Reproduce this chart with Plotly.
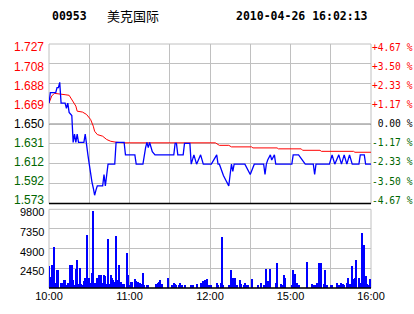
import plotly.graph_objects as go

# ---------------- data ----------------
stock_code = "00953"
stock_name = "美克国际"
timestamp = "2010-04-26 16:02:13"
prev_close = 1.65

# minute index: 0 = 10:00 ... 150 = 12:30/14:30 ... 240 = 16:00
price_min = [0, 1, 5, 6, 7, 8, 9, 12, 13, 14, 15, 16, 17, 18, 19, 20, 21, 22, 26, 27,
             28, 29, 30, 31, 32, 33, 34, 35, 36, 40, 41, 42, 43, 44, 49, 50, 56, 57, 64, 65,
             70, 71, 72, 73, 74, 75, 76, 77, 79, 93, 94, 95, 96, 100, 101, 105, 106, 108, 110, 113,
             115, 121, 125, 126, 127, 130, 132, 134, 135, 136, 137, 138, 146, 150, 153, 160, 161, 162, 163, 165,
             166, 168, 169, 181, 182, 186, 191, 197, 198, 199, 209, 211, 213, 216, 218, 220, 222, 224, 226, 231,
             232, 235, 236, 240]
price = [1.670, 1.680, 1.680, 1.685, 1.685, 1.690, 1.670, 1.670, 1.665, 1.670, 1.661, 1.659, 1.658, 1.632, 1.640, 1.632, 1.640, 1.632, 1.632, 1.640,
         1.632, 1.620, 1.611, 1.600, 1.594, 1.588, 1.581, 1.586, 1.590, 1.590, 1.601, 1.590, 1.601, 1.611, 1.611, 1.632, 1.632, 1.620, 1.620, 1.611,
         1.611, 1.620, 1.627, 1.632, 1.627, 1.632, 1.627, 1.623, 1.620, 1.620, 1.631, 1.631, 1.620, 1.620, 1.631, 1.631, 1.611, 1.620, 1.611, 1.620,
         1.611, 1.611, 1.620, 1.611, 1.611, 1.600, 1.595, 1.590, 1.601, 1.611, 1.604, 1.611, 1.611, 1.601, 1.611, 1.611, 1.601, 1.611, 1.615, 1.620,
         1.615, 1.620, 1.611, 1.611, 1.620, 1.620, 1.611, 1.611, 1.601, 1.611, 1.611, 1.620, 1.611, 1.620, 1.611, 1.620, 1.611, 1.620, 1.611, 1.611,
         1.620, 1.620, 1.611, 1.611]

avg_min = [0, 2, 4, 8, 12, 15, 18, 20, 21, 25, 28, 30, 31, 33, 34, 36, 40, 43, 46, 50,
           56, 124, 127, 134, 136, 151, 152, 170, 171, 188, 189, 202, 203, 227, 228, 240]
avg_price = [1.670, 1.6768, 1.6794, 1.6791, 1.6781, 1.6775, 1.6719, 1.6671, 1.6622, 1.6613,
             1.6590, 1.6549, 1.6542, 1.6477, 1.6428, 1.6396, 1.6380, 1.6348, 1.6331, 1.6322,
             1.6316, 1.6316, 1.6292, 1.6292, 1.6277, 1.6277, 1.6267, 1.6267, 1.6258, 1.6258,
             1.6244, 1.6244, 1.6234, 1.6234, 1.6225, 1.6225]

vol_min = [0, 1, 2, 3, 4, 5, 6, 7, 9, 10, 11, 12, 13, 14, 15, 16, 17, 18, 19, 20,
           21, 22, 23, 24, 25, 26, 27, 28, 29, 30, 31, 32, 33, 34, 35, 36, 37, 38, 39, 40,
           41, 42, 43, 44, 45, 46, 47, 48, 49, 50, 51, 52, 53, 54, 55, 56, 58, 59, 60, 61,
           62, 64, 65, 66, 68, 69, 70, 71, 73, 74, 80, 81, 82, 83, 84, 89, 92, 93, 94, 95,
           97, 98, 99, 101, 106, 107, 110, 113, 115, 116, 118, 119, 121, 125, 126, 128, 129, 130, 134, 135,
           136, 137, 139, 140, 142, 143, 145, 146, 147, 148, 151, 156, 158, 160, 161, 162, 163, 164, 165, 169,
           170, 173, 174, 175, 176, 181, 182, 183, 185, 186, 192, 196, 197, 198, 200, 201, 202, 203, 205, 206,
           207, 210, 211, 215, 216, 218, 219, 220, 222, 223, 224, 225, 226, 227, 228, 229, 231, 232, 233, 234,
           235, 236, 237, 238, 239]
vol = [2680, 1315, 2766, 1150, 5040, 530, 2150, 2150, 530, 530, 1000, 900, 285, 620, 285, 2810, 2810, 1000, 285, 2320,
       3500, 400, 2400, 496, 285, 820, 1150, 6610, 620, 1150, 530, 1860, 9590, 530, 400, 1150, 1530, 820, 1530, 530,
       1570, 1450, 400, 6120, 400, 1570, 1240, 910, 740, 6490, 910, 2770, 285, 740, 400, 400, 4340, 1530, 285, 660,
       660, 1030, 820, 700, 530, 400, 1860, 285, 285, 285, 400, 620, 740, 910, 400, 1150, 285, 530, 400, 285,
       285, 620, 285, 285, 285, 285, 400, 530, 820, 910, 1030, 285, 285, 530, 285, 620, 6280, 285, 285, 285,
       2150, 1150, 1150, 285, 910, 400, 285, 620, 285, 285, 1030, 285, 620, 285, 285, 2270, 820, 620, 2270, 620,
       3100, 400, 285, 1530, 1150, 285, 2150, 1650, 620, 285, 3260, 400, 285, 285, 530, 3100, 2600, 3100, 400, 2150,
       285, 285, 285, 620, 285, 620, 500, 285, 620, 1240, 400, 500, 2640, 1030, 1150, 3510, 1150, 620, 6820, 1030,
       5370, 1400, 400, 285, 1030]

price_ticks = [1.727055, 1.70775, 1.688445, 1.669305, 1.65, 1.630695, 1.611555, 1.59225, 1.572945]
price_labels = ["1.727", "1.708", "1.688", "1.669", "1.650", "1.631", "1.612", "1.592", "1.573"]
pct_labels = ["+4.67 %", "+3.50 %", "+2.33 %", "+1.17 %", " 0.00 %", "-1.17 %", "-2.33 %", "-3.50 %", "-4.67 %"]
label_colors = ["#FF0000"] * 4 + ["#000000"] + ["#006600"] * 4

vol_ticks = [2450, 4900, 7350, 9800]
vol_labels = ["2450", "4900", "7350", "9800"]

time_ticks = [0, 30, 60, 90, 120, 150, 180, 210, 240]
time_labels = ["10:00", "", "11:00", "", "12:00", "", "15:00", "", "16:00"]

# ---------------- figure ----------------
GRID = "#C0C0C0"
fig = go.Figure()

fig.add_trace(go.Scatter(x=avg_min, y=avg_price, mode="lines",
                         line=dict(color="#FF0000", width=1), xaxis="x2", yaxis="y",
                         hoverinfo="skip"))
fig.add_trace(go.Scatter(x=price_min, y=price, mode="lines",
                         line=dict(color="#0000FF", width=1.3), xaxis="x2", yaxis="y",
                         hoverinfo="skip"))
fig.add_trace(go.Bar(x=vol_min, y=vol, width=0.75, marker=dict(color="#0000FF", line=dict(width=0)),
                     xaxis="x", yaxis="y3", hoverinfo="skip"))

prange = [price_ticks[-1], price_ticks[0]]
price_dom = [0.346, 1.0]
vol_dom = [0.0, 0.3225]
label_squeeze = 0.957   # labels sit slightly inside the outer grid lines

annotations = []
for t, txt, pct, c in zip(price_ticks, price_labels, pct_labels, label_colors):
    ly = prev_close + (t - prev_close) * label_squeeze
    annotations.append(dict(text=txt, xref="paper", yref="y", x=-0.0124, y=ly,
                            xanchor="right", yanchor="middle", showarrow=False, borderpad=0,
                            font=dict(family="Liberation Sans, Arial", size=12, color=c)))
    annotations.append(dict(text=pct, xref="paper", yref="y", x=1.0, y=ly,
                            xanchor="left", yanchor="middle", showarrow=False, borderpad=0,
                            font=dict(family="DejaVu Sans Mono", size=9.6, color=c)))
for t, txt in zip(vol_ticks, vol_labels):
    annotations.append(dict(text=txt, xref="paper", yref="y3", x=-0.0124, y=t, yshift=-3,
                            xanchor="right", yanchor="middle", showarrow=False, borderpad=0,
                            font=dict(family="Liberation Sans, Arial", size=11, color="#000000")))

annotations += [
    dict(text=f"<b>{stock_code}</b>", xref="paper", yref="paper", x=0.003, y=1.115,
         xanchor="left", yanchor="middle", showarrow=False,
         font=dict(family="DejaVu Sans Mono", size=11.5, color="#000000")),
    dict(text=stock_name, xref="paper", yref="paper", x=0.174, y=1.115,
         xanchor="left", yanchor="middle", showarrow=False,
         font=dict(family="Noto Sans CJK SC", size=13, color="#000000")),
    dict(text=f"<b>{timestamp}</b>", xref="paper", yref="paper", x=0.997, y=1.115,
         xanchor="right", yanchor="middle", showarrow=False,
         font=dict(family="DejaVu Sans Mono", size=11.5, color="#000000")),
]

fig.update_layout(
    width=414, height=314,
    margin=dict(l=49, r=43, t=44, b=26),
    paper_bgcolor="white", plot_bgcolor="white",
    showlegend=False, bargap=0,
    xaxis=dict(domain=[0, 1], range=[0, 240], anchor="y3", tickmode="array",
               tickvals=time_ticks, ticktext=time_labels, showgrid=True, gridcolor=GRID,
               gridwidth=1, zeroline=False, showline=False, ticks="", automargin=False,
               tickfont=dict(family="Liberation Sans, Arial", size=11, color="#000000")),
    xaxis2=dict(domain=[0, 1], range=[0, 240], anchor="y", matches="x", tickmode="array",
                tickvals=time_ticks, showticklabels=False, showgrid=True, gridcolor=GRID,
                gridwidth=1, zeroline=False, showline=False, ticks="", automargin=False),
    yaxis=dict(domain=price_dom, range=prange, tickmode="array", tickvals=price_ticks,
               showticklabels=False, showgrid=True, gridcolor=GRID, gridwidth=1,
               zeroline=False, showline=False, ticks="", anchor="x2", automargin=False),
    yaxis3=dict(domain=vol_dom, range=[0, 9800], tickmode="array", tickvals=vol_ticks,
                showticklabels=False, showgrid=True, gridcolor=GRID, gridwidth=1,
                zeroline=False, showline=False, ticks="", anchor="x", automargin=False),
    shapes=[
        dict(type="rect", xref="x domain", yref="y domain", x0=0, x1=1, y0=0, y1=1,
             line=dict(color=GRID, width=1), layer="below"),
        dict(type="rect", xref="x domain", yref="y3 domain", x0=0, x1=1, y0=0, y1=1,
             line=dict(color=GRID, width=1), layer="below"),
        dict(type="line", xref="x domain", yref="y", x0=0, x1=1, y0=prev_close, y1=prev_close,
             line=dict(color="#000000", width=1), layer="below"),
        dict(type="line", xref="x domain", yref="y domain", x0=0, x1=1, y0=0, y1=0,
             line=dict(color="#000000", width=1.5)),
        dict(type="line", xref="x domain", yref="y3 domain", x0=0, x1=1, y0=0, y1=0,
             line=dict(color="#000000", width=1.5)),
    ],
    annotations=annotations,
)

fig.write_html("out.html")
